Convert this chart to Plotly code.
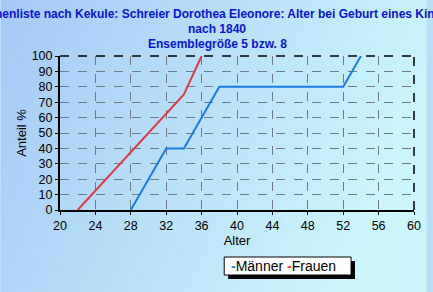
import base64
import plotly.graph_objects as go

# Data
men_age = [28, 30, 32, 34, 36, 38, 52, 54]
men_pct = [0, 20, 40, 40, 60, 80, 80, 100]
women_age = [22, 24, 26, 28, 30, 32, 34, 36]
women_pct = [0, 12.5, 25, 37.5, 50, 62.5, 75, 100]
x_ticks = list(range(20, 61, 4))
y_ticks = list(range(0, 101, 10))

title_lines = [
    "Ahnenliste nach Kekule: Schreier Dorothea Eleonore: Alter bei Geburt eines Kindes",
    "nach 1840",
    "Ensemblegröße 5 bzw. 8",
]

W, H = 433, 292
L, R, T, B = 60, 13, 56, 82
PW, PH = W - L - R, H - T - B

BLUE = "#1A7CE4"
RED = "#E23A44"
FONT = "Liberation Sans, Arial, sans-serif"

fig = go.Figure()
fig.add_trace(go.Scatter(x=men_age, y=men_pct, mode="lines", name="Männer",
                         line=dict(color=BLUE, width=2), showlegend=False))
fig.add_trace(go.Scatter(x=women_age, y=women_pct, mode="lines", name="Frauen",
                         line=dict(color=RED, width=2), showlegend=False))

svg = ('<svg xmlns="http://www.w3.org/2000/svg" width="433" height="292">'
       '<defs><linearGradient id="g" x1="0" y1="0" x2="1" y2="0.3">'
       '<stop offset="0" stop-color="#A4C9F6"/><stop offset="1" stop-color="#CBF6FC"/>'
       '</linearGradient></defs><rect width="433" height="292" fill="url(#g)"/></svg>')
src = "data:image/svg+xml;base64," + base64.b64encode(svg.encode()).decode()

def px(xp):
    return (xp - L) / PW

def py(yp):
    return 1 - (yp - T) / PH

fig.update_layout(
    width=W, height=H,
    margin=dict(l=L, r=R, t=T, b=B, pad=0),
    paper_bgcolor="#B8E0F9",
    plot_bgcolor="rgba(0,0,0,0)",
    font=dict(family=FONT, size=12, color="black"),
    images=[dict(source=src, xref="paper", yref="paper",
                 x=px(0), y=py(0), sizex=W / PW, sizey=H / PH,
                 xanchor="left", yanchor="top", sizing="stretch", layer="below")],
    xaxis=dict(range=[20, 60], tickvals=x_ticks, ticktext=[str(v) for v in x_ticks],
               showgrid=True, gridcolor="#6E7B88", griddash="dash", gridwidth=1,
               showline=True, linecolor="black", linewidth=2,
               ticks="outside", ticklen=3, tickcolor="black",
               tickfont=dict(size=12.5), zeroline=False,
               title=dict(text="Alter", font=dict(size=13), standoff=4)),
    yaxis=dict(range=[0, 100], tickvals=y_ticks, ticktext=[str(v) for v in y_ticks],
               showgrid=True, gridcolor="#6E7B88", griddash="dash", gridwidth=1,
               showline=True, linecolor="black", linewidth=2,
               ticks="outside", ticklen=3, tickcolor="black",
               tickfont=dict(size=12.5), zeroline=False,
               title=dict(text="Anteil %", font=dict(size=13), standoff=2)),
    shapes=[
        dict(type="line", xref="x domain", yref="y domain", x0=0, x1=1, y0=1, y1=1,
             line=dict(color="black", width=1.5, dash="dash")),
        dict(type="line", xref="x domain", yref="y domain", x0=1, x1=1, y0=0, y1=1,
             line=dict(color="black", width=1.5, dash="dash")),
        # legend shadow
        dict(type="rect", xref="paper", yref="paper",
             x0=px(231), x1=px(360), y0=py(279), y1=py(261),
             fillcolor="black", line=dict(width=0), layer="above"),
        # legend box
        dict(type="rect", xref="paper", yref="paper",
             x0=px(227), x1=px(356), y0=py(275), y1=py(257),
             fillcolor="white", line=dict(color="black", width=1), layer="above"),
    ],
)

# Title
ys = [14, 29, 44]
for txt, yp in zip(title_lines, ys):
    fig.add_annotation(text="<b>" + txt + "</b>", xref="paper", yref="paper",
                       x=px(220), y=py(yp),
                       xanchor="center", yanchor="middle", showarrow=False,
                       font=dict(family=FONT, size=12, color="#0A14D8"))

# Legend entries
fig.add_annotation(
    text=("<span style='color:%s'><b>-</b></span>Männer "
          "<span style='color:%s'><b>-</b></span>Frauen") % (BLUE, RED),
    xref="paper", yref="paper",
    x=px(232), y=py(266), xanchor="left", yanchor="middle",
    showarrow=False, font=dict(family=FONT, size=14, color="black"),
)

fig.write_html("out.html")
